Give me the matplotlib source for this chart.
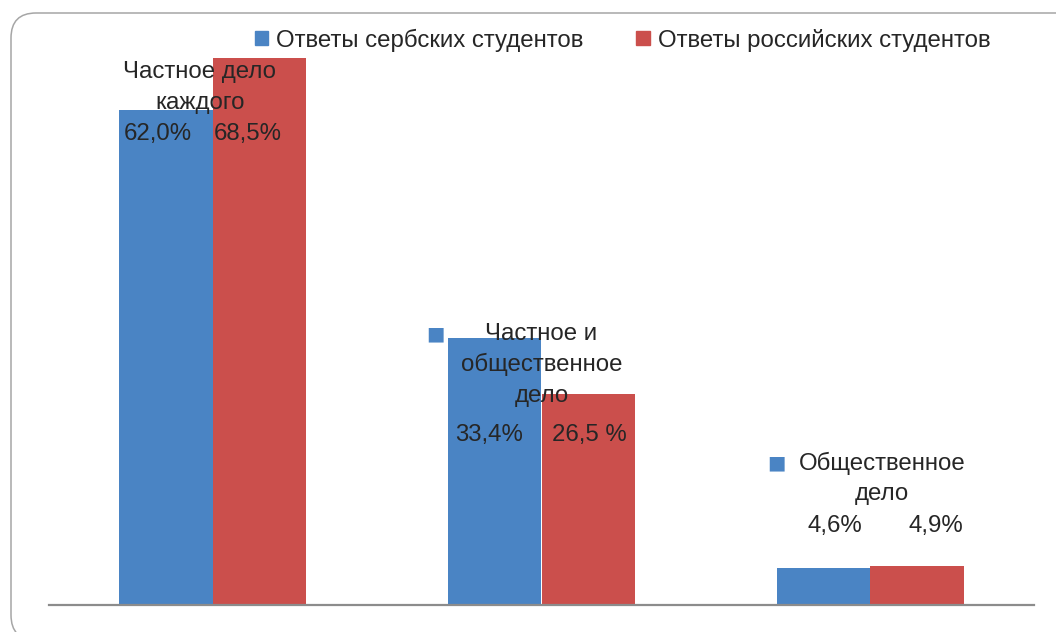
import matplotlib
matplotlib.use("Agg")
import matplotlib.pyplot as plt
from matplotlib.patches import Patch, FancyBboxPatch
import numpy as np

# --- data ---
categories = ["Частное дело\nкаждого", "Частное и\nобщественное\nдело", "Общественное\nдело"]
series_names = ["Ответы сербских студентов", "Ответы российских студентов"]
serbian = [62.0, 33.4, 4.6]
russian = [68.5, 26.5, 4.9]
serbian_labels = ["62,0%", "33,4%", "4,6%"]
russian_labels = ["68,5%", "26,5 %", "4,9%"]

# --- layout (label placement, data units) ---
name_dx = [-0.04, 0.0, 0.036]
name_top = [66.8, 34.0, 17.8]
value_y = [59.0, 21.3, 9.9]
value_dx = [(-0.167, 0.106), (-0.158, 0.146), (-0.106, 0.201)]
key_shown = [False, True, True]
LINE = 3.9  # line step in data units

BLUE = "#4A84C4"
RED = "#CB4F4C"
TXT = "#262626"
FONT = "Liberation Sans"
FS = 17.3

plt.rcParams["font.family"] = [FONT, "DejaVu Sans"]

fig = plt.figure(figsize=(10.56, 6.32), dpi=100)
ax = fig.add_axes([48.5 / 1056, 1 - 605 / 632, (1034.5 - 48.5) / 1056, 598.5 / 632])

x = np.arange(len(categories))
bw = 0.284
ax.bar(x - bw / 2, serbian, width=bw, color=BLUE, label=series_names[0])
ax.bar(x + bw / 2, russian, width=bw, color=RED, label=series_names[1])

ax.set_xlim(-0.5, len(categories) - 0.5)
ax.set_ylim(0, 75)
for s in ["top", "left", "right"]:
    ax.spines[s].set_visible(False)
ax.spines["bottom"].set_color("#8c8c8c")
ax.spines["bottom"].set_linewidth(1.6)
ax.set_xticks([])
ax.set_yticks([])

for i, name in enumerate(categories):
    lines = name.split("\n")
    for k, ln in enumerate(lines):
        ax.text(x[i] + name_dx[i], name_top[i] - k * LINE, ln, ha="center", va="center",
                fontsize=FS, color=TXT)
    if key_shown[i]:
        # legend key that Excel puts in front of the label
        ax.annotate("■", xy=(x[i] + name_dx[i], name_top[i]), xytext=(-106, 0),
                    textcoords="offset pixels", ha="center", va="center",
                    fontsize=14, color=BLUE, family="DejaVu Sans")
    ax.text(x[i] + value_dx[i][0], value_y[i], serbian_labels[i], ha="center", va="center",
            fontsize=FS, color=TXT)
    ax.text(x[i] + value_dx[i][1], value_y[i], russian_labels[i], ha="center", va="center",
            fontsize=FS, color=TXT)

handles = [Patch(color=BLUE), Patch(color=RED)]
fig.legend(handles, series_names, loc="center left", bbox_to_anchor=(255 / 1056, 1 - 40 / 632),
           ncol=2, frameon=False, fontsize=FS, borderpad=0, borderaxespad=0,
           handlelength=0.55, handleheight=0.55, handletextpad=0.33, columnspacing=2.2,
           labelcolor=TXT)

frame = FancyBboxPatch((0.11, -0.08), 10.75, 6.27, boxstyle="round,pad=0,rounding_size=0.25",
                       transform=fig.dpi_scale_trans, facecolor="none", edgecolor="#a6a6a6",
                       linewidth=1.1)
fig.add_artist(frame)

fig.savefig("out.png", dpi=100)
